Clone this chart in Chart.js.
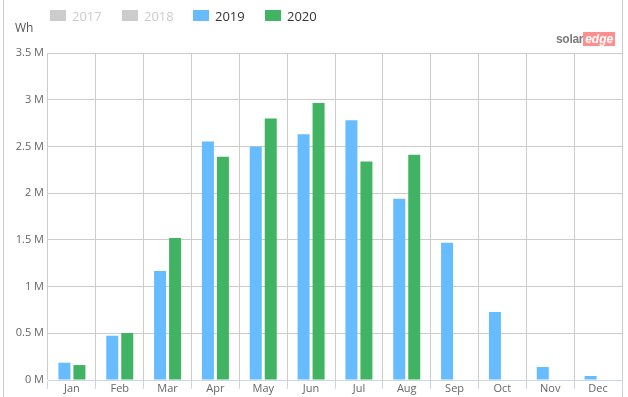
<!DOCTYPE html>
<html>
<head>
<meta charset="utf-8">
<script src="https://cdn.jsdelivr.net/npm/chart.js@4"></script>
<style>
  body { margin: 0; background: #fff; font-family: 'Open Sans', sans-serif; }
  #wrap { position: relative; width: 628px; height: 397px; overflow: hidden; }
  #frame { position: absolute; left: 3px; top: 0; width: 618px; height: 397px;
           border-left: 1px solid #cccccc; border-right: 1px solid #cccccc; }
  canvas { position: absolute; left: 0; top: 0; }
  .lg-box { position: absolute; top: 10px; width: 16px; height: 11px; }
  .lg-txt { position: absolute; top: 10px; font-size: 13px; line-height: 1; color: #333; }
  #unit { position: absolute; left: 15px; top: 22px; font-size: 12px; line-height: 1; color: #555; }
  #logo { position: absolute; left: 556px; top: 33px; height: 12px; font-family: 'Liberation Sans', Arial, sans-serif;
          font-weight: bold; font-size: 12px; line-height: 12px; }
  #logo .solar { color: #7b7b7b; letter-spacing: -0.3px; }
  #logo .edge { background: #ff8f8f; color: #fff; font-style: italic; padding: 0 2px 0 2px; }
</style>
</head>
<body>
<div id="wrap">
  <div id="frame"></div>
  <canvas id="chart" width="628" height="397"></canvas>
  <div id="legend"></div>
  <div id="unit">Wh</div>
  <div id="logo"><span class="solar">solar</span><span class="edge">edge</span></div>
</div>
<script>
// Monthly energy (Wh)
var months = ['Jan', 'Feb', 'Mar', 'Apr', 'May', 'Jun', 'Jul', 'Aug', 'Sep', 'Oct', 'Nov', 'Dec'];
var years = ['2017', '2018', '2019', '2020'];
var energy2017 = [];
var energy2018 = [];
var energy2019 = [185000, 474000, 1166000, 2554000, 2500000, 2630000, 2780000, 1940000, 1470000, 727000, 139000, 43000];
var energy2020 = [160000, 503000, 1520000, 2390000, 2800000, 2965000, 2340000, 2410000, null, null, null, null];
var hiddenYears = ['2017', '2018'];
var yTicks = [0, 500000, 1000000, 1500000, 2000000, 2500000, 3000000, 3500000];

var colors = { '2017': '#cccccc', '2018': '#cccccc', '2019': '#66bcff', '2020': '#41b463' };
var seriesData = { '2017': energy2017, '2018': energy2018, '2019': energy2019, '2020': energy2020 };

// legend drawn as html so it sits where the original one does
var legendX = [50, 122, 193, 265];
var legend = document.getElementById('legend');
years.forEach(function (y, i) {
    var off = hiddenYears.indexOf(y) >= 0;
    var box = document.createElement('div');
    box.className = 'lg-box';
    box.style.left = legendX[i] + 'px';
    box.style.background = off ? '#cccccc' : colors[y];
    legend.appendChild(box);
    var txt = document.createElement('div');
    txt.className = 'lg-txt';
    txt.style.left = (legendX[i] + 22) + 'px';
    txt.style.color = off ? '#cccccc' : '#333333';
    txt.textContent = y;
    legend.appendChild(txt);
});

Chart.defaults.font.family = "'Open Sans', sans-serif";
Chart.defaults.font.size = 11;
Chart.defaults.color = '#666666';

var ctx = document.getElementById('chart').getContext('2d');
new Chart(ctx, {
    type: 'bar',
    data: {
        labels: months,
        datasets: years.map(function (y) {
            return {
                label: y,
                data: seriesData[y],
                backgroundColor: colors[y],
                hidden: hiddenYears.indexOf(y) >= 0,
                categoryPercentage: 0.627,
                barPercentage: 0.8
            };
        })
    },
    options: {
        responsive: false,
        animation: false,
        layout: { padding: { left: 0, right: 6, top: 53, bottom: 0 } },
        plugins: {
            legend: { display: false },
            tooltip: { enabled: false }
        },
        scales: {
            x: {
                grid: { color: '#cccccc', tickColor: '#ccd6eb', tickLength: 9, offset: true },
                border: { color: '#ccd6eb' },
                ticks: { padding: -7, color: '#666666', font: { size: 11 } },
                afterFit: function (scale) { scale.height = 17; }
            },
            y: {
                min: 0,
                max: 3500000,
                afterBuildTicks: function (scale) {
                    scale.ticks = yTicks.map(function (v) { return { value: v }; });
                },
                grid: { color: '#cccccc', drawTicks: false },
                border: { display: false },
                ticks: {
                    padding: 4,
                    color: '#666666',
                    callback: function (v) { return (v / 1000000) + ' M'; }
                },
                afterFit: function (scale) { scale.width = 48; }
            }
        }
    }
});
</script>
</body>
</html>
